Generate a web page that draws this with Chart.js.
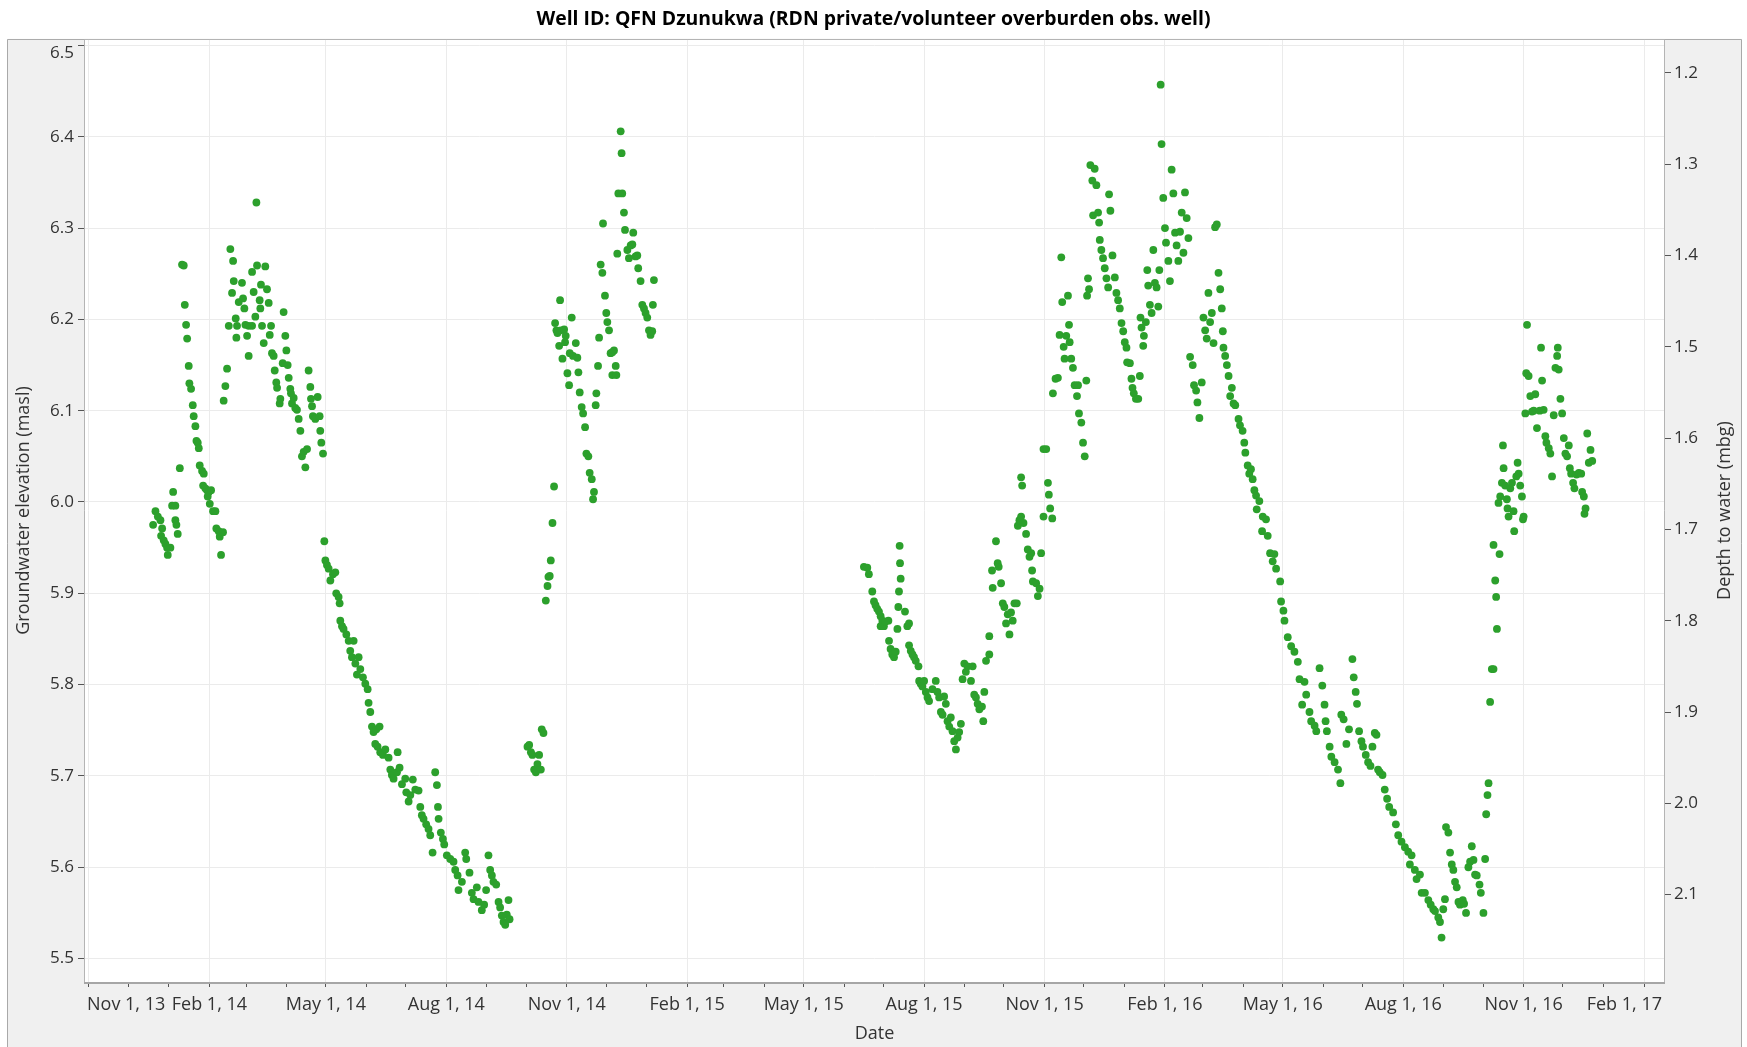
<!DOCTYPE html>
<html>
<head>
<meta charset="utf-8">
<title>Well ID: QFN Dzunukwa</title>
<script src="https://cdn.jsdelivr.net/npm/chart.js@4.4.1/dist/chart.umd.min.js"></script>
<style>
  html, body { margin: 0; padding: 0; background: #fff; }
</style>
</head>
<body>
<canvas id="well" width="1747" height="1047"></canvas>
<script>
// x values are days since Nov 1, 2013; y values are groundwater elevation (masl)
const startDate = '2013-11-01'
const groundSurface = 7.67   // depth to water = groundSurface - elevation

const winter2013 = [
  [49.0,5.975],[50.8,5.990],[52.6,5.984],[54.6,5.980],[55.1,5.963],[55.9,5.971],[57.1,5.958],
  [58.4,5.954],[59.7,5.950],[60.2,5.942],[62.2,5.950],[63.5,5.996],[64.3,6.011],[66.0,5.996],
  [66.0,5.980],[66.8,5.975],[67.8,5.965],[69.4,6.037]
]
const drop2014 = [
  [71.1,6.260],[72.4,6.259],[73.2,6.216],[74.2,6.194],[75.0,6.179],[76.2,6.149],[76.7,6.130],
  [78.0,6.124],[79.3,6.106],[80.0,6.094],[81.3,6.083],[82.1,6.067],[83.1,6.065],[83.9,6.059],
  [84.6,6.040],[86.4,6.034],[87.2,6.018],[87.7,6.031],[88.9,6.015],[90.2,6.013],[90.7,6.006],
  [91.5,6.011],[92.3,5.998],[93.3,6.013],[94.8,5.990],[96.6,5.990],[97.3,5.971],[99.1,5.968],
  [99.9,5.962],[100.9,5.942],[102.4,5.967]
]
const spring2014 = [
  [102.9,6.111],[104.2,6.127],[105.5,6.146],[106.8,6.193],[108.0,6.277],[109.3,6.229],[110.1,6.264],
  [110.6,6.242],[112.1,6.201],[112.6,6.180],[113.1,6.193],[114.4,6.219],[116.9,6.240],[117.7,6.223],
  [118.7,6.212],[119.5,6.194],[120.8,6.182],[122.0,6.193],[122.0,6.160],[124.6,6.193],[124.6,6.252],
  [125.8,6.230],[127.1,6.203],[127.9,6.328],[128.4,6.259],[130.4,6.221],[130.9,6.212],[131.4,6.238],
  [132.2,6.193],[133.5,6.174],[134.7,6.258],[136.0,6.233],[137.3,6.218],[138.1,6.183],[139.1,6.193],
  [139.8,6.163],[141.1,6.160],[141.9,6.144],[143.1,6.131],[143.7,6.125],[145.7,6.108],[146.2,6.113],
  [148.0,6.152],[148.7,6.208],[150.0,6.182],[150.8,6.166],[151.8,6.150],[152.6,6.136],[153.8,6.124],
  [154.3,6.119],[155.1,6.108],[156.4,6.114],[157.6,6.103],[158.9,6.101],[160.2,6.091],[161.5,6.078],
  [162.7,6.050],[164.0,6.055],[165.3,6.038],[166.6,6.058],[167.8,6.144],[169.1,6.126],[169.6,6.113],
  [170.4,6.105],[171.1,6.094],[172.9,6.091],[174.7,6.115],[176.2,6.094],[176.7,6.078],[177.5,6.065],
  [178.8,6.053]
]
const recession2014 = [
  [179.8,5.957],[180.6,5.936],[181.8,5.931],[183.1,5.927],[184.4,5.914],[186.4,5.921],[188.2,5.923],
  [188.9,5.900],[190.7,5.896],[191.5,5.889],[192.0,5.870],[193.3,5.864],[194.5,5.861],[196.6,5.855],
  [198.4,5.848],[199.6,5.837],[200.9,5.830],[202.2,5.848],[203.5,5.823],[204.7,5.811],[206.0,5.830],
  [207.3,5.817],[209.3,5.808],[211.1,5.801],[212.9,5.795],[213.6,5.780],[214.9,5.770],[216.2,5.754],
  [217.4,5.748],[218.7,5.735],[219.5,5.751],[220.5,5.732],[222.0,5.754],[222.5,5.726],[224.6,5.723],
  [226.4,5.729],[228.9,5.720],[230.2,5.707],[231.4,5.701],[232.7,5.697],[235.3,5.704],[235.8,5.726],
  [237.3,5.709],[239.1,5.691],[241.6,5.697],[242.4,5.682],[244.2,5.672],[245.5,5.679],[247.4,5.696],
  [249.3,5.685],[251.8,5.684],[253.1,5.666],[254.3,5.657],[255.6,5.653],[257.6,5.647],[259.4,5.642],
  [260.7,5.635],[262.5,5.616],[264.5,5.704],[265.8,5.690],[266.6,5.666],[267.1,5.653],[268.8,5.638],
  [270.4,5.631],[271.4,5.625],[273.4,5.613],[276.0,5.609],[278.5,5.606],[279.8,5.597],[281.6,5.591],
  [282.3,5.575],[284.9,5.584],[287.4,5.616],[288.2,5.609],[290.7,5.594],[292.5,5.572],[293.8,5.565],
  [296.3,5.578],[297.6,5.562],[300.1,5.553],[301.9,5.559],[303.4,5.575],[305.2,5.613],[306.5,5.597],
  [307.8,5.591],[309.0,5.584],[311.1,5.581],[312.9,5.562],[314.1,5.556],[315.4,5.547],[316.7,5.540],
  [318.0,5.537],[319.2,5.548],[320.5,5.564],[321.3,5.543]
]
const autumn2014 = [
  [335.0,5.732],[336.3,5.734],[337.6,5.726],[338.8,5.723],[340.1,5.707],[341.4,5.704],[342.6,5.713],
  [343.9,5.723],[345.2,5.707],[345.9,5.751],[347.2,5.747],
  [349.0,5.892],[350.3,5.908],[351.0,5.918],[352.0,5.919],[352.8,5.936],[354.1,5.977],[355.3,6.017]
]
const winter2015 = [
  [356.1,6.196],[357.1,6.188],[357.9,6.185],[359.2,6.171],[359.9,6.221],[360.4,6.188],[361.7,6.157],
  [363.0,6.189],[363.7,6.175],[364.2,6.182],[365.5,6.141],[366.8,6.128],[367.3,6.163],[368.8,6.202],
  [369.8,6.160],[371.9,6.174],[373.1,6.158],[373.9,6.142],[374.9,6.120],[376.4,6.104],[377.5,6.097],
  [379.0,6.082],[380.0,6.053],[381.5,6.050],[382.5,6.032],[384.1,6.025],[385.1,6.003],[385.8,6.011],
  [387.1,6.106],[387.6,6.119],[388.9,6.149],[389.7,6.180],[390.9,6.260],[392.2,6.251],[392.7,6.305],
  [394.2,6.226],[395.2,6.207],[396.0,6.197],[397.3,6.188],[398.5,6.163],[399.8,6.164],[399.8,6.139],
  [401.1,6.166],[402.4,6.149],[402.9,6.139],[403.6,6.272],[404.4,6.338],[406.2,6.406],[406.9,6.382],
  [407.4,6.338],[408.7,6.317],[409.5,6.298],[411.3,6.276],[412.5,6.267],[413.8,6.281],[415.1,6.282],
  [415.8,6.295],[417.6,6.269],[418.9,6.270],[419.6,6.256],[421.4,6.242],[422.7,6.216],[424.0,6.212],
  [425.2,6.207],[426.5,6.202],[427.8,6.188],[429.0,6.183],[430.3,6.187],[430.8,6.216],[431.6,6.243]
]
const summer2015 = [
  [592.0,5.929],[594.6,5.928],[595.8,5.921],[598.4,5.902],[599.7,5.891],[600.9,5.887],[602.2,5.883],
  [603.5,5.880],[604.8,5.875],[604.8,5.864],[606.1,5.870],[607.3,5.864],[608.6,5.869],[610.7,5.870],
  [611.2,5.848],[612.4,5.839],[613.7,5.833],[615.0,5.830],[616.3,5.836],[617.6,5.861],[618.3,5.885],
  [618.8,5.902],[619.3,5.952],[619.6,5.933],[620.1,5.916],[623.4,5.880],[625.2,5.864],[626.5,5.867],
  [626.5,5.843],[627.8,5.837],[629.1,5.833],[630.3,5.830],[631.6,5.826],[633.7,5.820],[634.2,5.804],
  [635.4,5.801],[636.7,5.798],[638.0,5.804],[639.3,5.792],[640.6,5.786],[641.8,5.782],[644.4,5.795],
  [646.9,5.804],[648.2,5.792],[649.5,5.786],[650.8,5.770],[652.1,5.767],[653.3,5.787],[654.6,5.779],
  [655.9,5.760],[657.2,5.754],[658.4,5.764],[659.7,5.749],[661.0,5.738],[662.3,5.729],[663.6,5.742],
  [664.8,5.748],[666.1,5.757],[667.4,5.806],[668.7,5.823],[669.9,5.814],[671.2,5.820],[673.8,5.804],
  [675.1,5.820],[676.3,5.789],[677.6,5.786],[678.9,5.779],[680.2,5.773],[682.2,5.776],[683.2,5.760],
  [684.0,5.792],[685.3,5.826],[687.8,5.833],[687.8,5.853],[689.9,5.925],[690.4,5.906],[692.9,5.957],
  [694.2,5.933],[695.0,5.929],[696.8,5.911],[698.1,5.889],[699.3,5.885],[700.6,5.867],[701.9,5.877],
  [703.2,5.855],[704.4,5.879],[705.7,5.870],[707.0,5.889],[708.8,5.889],[709.6,5.974],[710.8,5.980],
  [712.1,5.984],[712.1,6.027],[712.9,6.018],[713.9,5.977],[715.9,5.965],[717.2,5.948],[718.5,5.940],
  [719.8,5.944],[720.5,5.925],[721.1,5.913],[723.6,5.911],[724.9,5.897],[726.2,5.905],[727.4,5.944],
  [729.2,6.058],[729.2,5.984],[731.3,6.058],[732.6,6.021],[733.3,6.008],[734.3,5.993],[735.9,5.982]
]
const winter2016 = [
  [736.4,6.119],[738.4,6.135],[740.2,6.136],[741.5,6.183],[742.8,6.268],[743.5,6.219],[744.6,6.170],
  [745.3,6.157],[746.6,6.182],[747.9,6.226],[748.7,6.194],[749.2,6.175],[750.4,6.157],[751.7,6.147],
  [753.0,6.128],[754.8,6.116],[755.6,6.128],[756.3,6.097],[758.1,6.087],[759.4,6.065],[760.7,6.050],
  [761.9,6.133],[762.5,6.226],[763.2,6.245],[764.0,6.233],[765.0,6.369],[766.5,6.352],[767.1,6.314],
  [768.3,6.365],[769.6,6.347],[770.9,6.317],[771.7,6.306],[772.2,6.287],[773.4,6.276],[774.7,6.267],
  [776.0,6.256],[777.3,6.245],[778.6,6.235],[779.3,6.337],[780.3,6.319],[781.9,6.270],[783.7,6.246],
  [784.9,6.229],[786.2,6.221],[787.5,6.212],[788.8,6.196],[790.1,6.187],[791.3,6.175],[792.6,6.169],
  [793.1,6.153],[795.2,6.152],[796.4,6.135],[797.2,6.125],[798.2,6.119],[799.8,6.113],[801.6,6.113],
  [802.8,6.138],[803.3,6.202],[804.1,6.191],[805.4,6.171],[805.9,6.182],[807.4,6.197],[808.5,6.254],
  [809.2,6.237],[810.5,6.216],[811.8,6.207],[813.1,6.276],[814.3,6.240],[815.6,6.235],[816.9,6.214],
  [817.7,6.254],[818.7,6.457],[819.4,6.392],[820.7,6.333],[822.0,6.300],[822.8,6.284],[824.6,6.264],
  [825.8,6.242],[827.1,6.364],[828.4,6.338],[829.7,6.295],[830.9,6.281],[832.2,6.264],[833.5,6.296],
  [834.8,6.317],[836.1,6.273],[837.3,6.339],[838.6,6.311],[839.9,6.289],[841.2,6.159],[843.2,6.150],
  [844.2,6.128],[845.8,6.122],[846.8,6.109],[848.3,6.092],[850.1,6.131],[851.4,6.202],[852.7,6.188],
  [853.9,6.179],[855.2,6.229],[856.5,6.197],[857.8,6.207],[859.1,6.174],[860.3,6.301],[861.6,6.304],
  [862.9,6.251],[864.2,6.233],[865.4,6.212],[866.2,6.187],[866.7,6.169],[868.0,6.160],[869.3,6.150],
  [870.6,6.138],[871.8,6.116],[873.1,6.125],[874.4,6.108],[875.7,6.106],[878.2,6.091]
]
const recession2016 = [
  [879.3,6.084],[881.3,6.078],[882.6,6.065],[883.4,6.054],[885.2,6.040],[886.4,6.031],[887.7,6.036],
  [889.0,6.025],[890.3,6.013],[891.6,6.007],[892.1,5.992],[894.1,6.001],[896.2,5.968],[896.7,5.984],
  [899.2,5.981],[900.5,5.963],[902.3,5.944],[904.3,5.935],[905.6,5.943],[906.9,5.927],[910.0,5.913],
  [910.7,5.891],[912.5,5.881],[913.3,5.870],[915.8,5.852],[918.4,5.842],[920.9,5.836],[923.5,5.825],
  [924.8,5.806],[926.8,5.778],[928.6,5.803],[929.9,5.789],[932.4,5.770],[933.7,5.760],[936.3,5.755],
  [937.6,5.749],[940.1,5.818],[942.2,5.799],[943.9,5.778],[944.7,5.760],[945.7,5.749],[947.8,5.732],
  [949.1,5.721],[951.6,5.715],[954.2,5.707],[956.0,5.692],[956.7,5.767],[958.5,5.762],[960.6,5.735],
  [962.6,5.751],[965.2,5.828],[966.2,5.808],[967.7,5.792],[968.7,5.779],[970.3,5.749],[972.1,5.738],
  [973.3,5.732],[975.4,5.723],[977.2,5.715],[979.0,5.711],[980.5,5.732],[982.3,5.747],[983.6,5.745],
  [984.8,5.707],[986.1,5.704],[988.2,5.701],[989.9,5.685],[991.7,5.675],[993.3,5.666],[996.3,5.660],
  [998.4,5.647],[1000.2,5.635],[1002.7,5.628],[1005.3,5.622],[1007.8,5.617],[1009.1,5.603],[1010.4,5.613],
  [1012.9,5.597],[1014.2,5.587],[1016.8,5.592],[1018.1,5.572],[1020.6,5.572],[1023.2,5.564],[1025.0,5.559],
  [1027.0,5.554],[1028.3,5.552],[1030.8,5.545],[1032.1,5.540],[1033.3,5.523],[1034.6,5.554],[1035.9,5.565],
  [1036.7,5.644],[1038.5,5.638],[1039.8,5.616],[1041.1,5.603],[1042.3,5.597],[1043.6,5.584],[1044.9,5.578],
  [1046.2,5.562],[1047.4,5.559],[1049.5,5.564],[1050.5,5.560],[1052.0,5.550],[1053.8,5.600],[1055.1,5.606],
  [1056.4,5.623],[1057.7,5.608],[1058.9,5.592],[1060.2,5.591],[1062.3,5.581],[1063.3,5.572],[1065.3,5.550],
  [1066.6,5.609],[1067.4,5.658],[1068.4,5.679],[1069.2,5.692],[1070.4,5.781],[1071.7,5.817],[1073.0,5.817],
  [1073.0,5.953],[1074.3,5.914],[1075.0,5.896],[1075.6,5.861],[1076.8,5.999],[1077.6,5.943],[1078.1,6.006]
]
const autumn2016 = [
  [1079.4,6.021],[1080.2,6.062],[1080.7,6.037],[1081.9,6.018],[1083.2,6.003],[1083.7,5.993],[1084.5,5.984],
  [1085.8,6.015],[1087.1,6.021],[1088.3,5.990],[1088.8,5.968],[1090.4,6.028],[1091.4,6.043],[1092.2,6.031],
  [1093.4,6.018],[1094.7,6.006],[1095.5,5.981],[1096.0,5.984],[1097.3,6.097],[1098.0,6.141],[1098.6,6.194],
  [1099.8,6.138],[1101.1,6.116],[1102.4,6.099],[1103.7,6.100],[1104.9,6.118],[1106.2,6.081],[1108.3,6.100],
  [1109.3,6.169],[1110.1,6.133],[1111.3,6.101],[1112.6,6.072],[1113.4,6.065],[1115.2,6.059],[1116.4,6.053],
  [1117.7,6.028],[1119.0,6.095],[1120.3,6.147],[1121.6,6.160],[1122.1,6.169],[1122.8,6.145],[1124.1,6.113],
  [1125.4,6.097],[1126.7,6.070],[1127.9,6.053],[1129.2,6.050],[1130.5,6.062],[1131.3,6.037],[1132.3,6.031],
  [1133.8,6.021],[1134.8,6.015],[1136.4,6.030],[1138.2,6.032],[1140.0,6.031],[1140.7,6.011],[1142.0,6.006],
  [1142.5,5.987],[1143.3,5.993],[1144.6,6.075],[1145.8,6.043],[1147.1,6.057],[1148.4,6.045]
]

const elevTicks = [5.5, 5.6, 5.7, 5.8, 5.9, 6.0, 6.1, 6.2, 6.3, 6.4, 6.5]
const depthTicks = [1.2, 1.3, 1.4, 1.5, 1.6, 1.7, 1.8, 1.9, 2.0, 2.1]
const xTickDates = ['2013-11-01','2014-02-01','2014-05-01','2014-08-01','2014-11-01','2015-02-01','2015-05-01',
                    '2015-08-01','2015-11-01','2016-02-01','2016-05-01','2016-08-01','2016-11-01','2017-02-01']
const xTickLabels = ['Nov 1, 13','Feb 1, 14','May 1, 14','Aug 1, 14','Nov 1, 14','Feb 1, 15','May 1, 15',
                     'Aug 1, 15','Nov 1, 15','Feb 1, 16','May 1, 16','Aug 1, 16','Nov 1, 16','Feb 1, 17']

const dayOf = d => (Date.parse(d) - Date.parse(startDate)) / 86400000
const majorDays = xTickDates.map(dayOf)

// first of every month between the labelled dates (minor ticks)
const monthDays = []
for (let y = 2013, m = 10; ; m++) {
  if (m > 11) { m = 0; y++ }
  monthDays.push((Date.UTC(y, m, 1) - Date.parse(startDate)) / 86400000)
  if (y === 2017 && m === 1) break
}

const points = [].concat(winter2013, drop2014, spring2014, recession2014, autumn2014, winter2015,
  summer2015, winter2016, recession2016, autumn2016).map(p => ({x: p[0], y: p[1]}))

const elevMin = 5.4743, elevMax = 6.5071
const fontFamily = '"Open Sans", "Noto Sans", sans-serif'
const textColor = '#333'

const framePlugin = {
  id: 'frame',
  beforeDraw(chart) {
    const {ctx, chartArea: a, width, height} = chart
    ctx.save()
    ctx.fillStyle = '#fff'
    ctx.fillRect(0, 0, width, height)
    ctx.fillStyle = '#f0f0f0'
    ctx.fillRect(7.5, a.top, 1734, height - a.top)
    ctx.fillStyle = '#fff'
    ctx.fillRect(a.left, a.top, a.right - a.left, a.bottom - a.top)
    ctx.strokeStyle = '#a9a9a9'
    ctx.lineWidth = 1
    ctx.beginPath()
    ctx.moveTo(7.5, height)
    ctx.lineTo(7.5, a.top + 0.5)
    ctx.lineTo(1741.5, a.top + 0.5)
    ctx.lineTo(1741.5, height)
    ctx.stroke()
    ctx.restore()
  },
  afterDraw(chart) {
    const {ctx, chartArea: a} = chart
    const xs = chart.scales.x, ys = chart.scales.elev
    ctx.save()
    ctx.strokeStyle = '#b4b4b4'
    ctx.lineWidth = 1
    ctx.beginPath()
    ctx.moveTo(a.left + 0.5, a.bottom)
    ctx.lineTo(a.left + 0.5, a.top + 0.5)
    ctx.lineTo(a.right - 0.5, a.top + 0.5)
    ctx.lineTo(a.right - 0.5, a.bottom)
    ctx.stroke()
    ctx.strokeStyle = '#a6a6a6'
    ctx.lineWidth = 2
    ctx.beginPath()
    ctx.moveTo(a.left, a.bottom + 1)
    ctx.lineTo(a.right, a.bottom + 1)
    ctx.stroke()

    ctx.fillStyle = textColor
    ctx.textBaseline = 'middle'
    // date labels, kept inside the plot width at both ends
    ctx.font = '18px ' + fontFamily
    ctx.textAlign = 'left'
    majorDays.forEach((d, i) => {
      const w = ctx.measureText(xTickLabels[i]).width
      const px = xs.getPixelForValue(d)
      const left = Math.min(Math.max(px - w / 2, a.left + 3), a.right - 3 - w)
      ctx.fillText(xTickLabels[i], left, a.bottom + 23)
    })
    // elevation labels, kept inside the plot height
    ctx.font = '17px ' + fontFamily
    ctx.textAlign = 'right'
    elevTicks.forEach(v => {
      const py = Math.min(Math.max(ys.getPixelForValue(v), a.top + 14), a.bottom - 12)
      ctx.fillText(v.toFixed(1), a.left - 10, py)
    })
    // right axis title reads bottom-to-top like the left one
    ctx.translate(chart.scales.depth.right - 22, (a.top + a.bottom) / 2)
    ctx.rotate(-Math.PI / 2)
    ctx.font = '18px ' + fontFamily
    ctx.textAlign = 'center'
    ctx.fillText('Depth to water (mbg)', 0, 0)
    ctx.restore()
  }
}

new Chart(document.getElementById('well'), {
  type: 'scatter',
  data: {
    datasets: [{
      label: 'Groundwater elevation',
      data: points,
      yAxisID: 'elev',
      backgroundColor: '#2ca02c',
      borderWidth: 0,
      pointRadius: 3.9,
      pointHoverRadius: 3.9
    }]
  },
  options: {
    responsive: false,
    animation: false,
    devicePixelRatio: 1,
    layout: { padding: 0 },
    plugins: {
      legend: { display: false },
      tooltip: { enabled: false },
      title: {
        display: true,
        text: 'Well ID: QFN Dzunukwa (RDN private/volunteer overburden obs. well)',
        color: '#000',
        font: { family: fontFamily, size: 19.4, weight: 'bold', lineHeight: 1.2 },
        padding: { top: 8, bottom: 7.7 }
      }
    },
    scales: {
      x: {
        type: 'linear',
        position: 'bottom',
        min: -3.8,
        max: 1204,
        afterBuildTicks: s => { s.ticks = monthDays.map(v => ({value: v})) },
        afterFit: s => { s.height = 65 },
        ticks: {
          autoSkip: false,
          maxRotation: 0,
          color: 'rgba(0,0,0,0)',
          font: { family: fontFamily, size: 18 },
          callback: () => ''
        },
        grid: {
          color: c => (c.tick && majorDays.includes(c.tick.value)) ? '#ebebeb' : 'rgba(0,0,0,0)',
          tickColor: '#555',
          tickLength: 5
        },
        border: { display: false },
        title: {
          display: true,
          text: 'Date',
          color: textColor,
          font: { family: fontFamily, size: 18, lineHeight: 1.2 },
          padding: { top: 0, bottom: 2 }
        }
      },
      elev: {
        type: 'linear',
        position: 'left',
        min: elevMin,
        max: elevMax,
        afterBuildTicks: s => { s.ticks = elevTicks.map(v => ({value: v})) },
        afterFit: s => { s.width = 84 },
        ticks: {
          color: 'rgba(0,0,0,0)',
          padding: 3,
          font: { family: fontFamily, size: 17 },
          callback: v => v.toFixed(1)
        },
        grid: { color: '#ebebeb', tickColor: '#555', tickLength: 6 },
        border: { display: false },
        title: {
          display: true,
          text: 'Groundwater elevation (masl)',
          color: textColor,
          font: { family: fontFamily, size: 18, lineHeight: 1.2 },
          padding: { top: 13, bottom: 0 }
        }
      },
      depth: {
        type: 'linear',
        position: 'right',
        reverse: true,
        min: groundSurface - elevMax,
        max: groundSurface - elevMin,
        afterBuildTicks: s => { s.ticks = depthTicks.map(v => ({value: v})) },
        afterFit: s => { s.width = 82 },
        ticks: {
          color: textColor,
          padding: 3,
          font: { family: fontFamily, size: 17 },
          callback: v => v.toFixed(1)
        },
        grid: { drawOnChartArea: false, tickColor: '#555', tickLength: 6 },
        border: { display: false }
      }
    }
  },
  plugins: [framePlugin]
})
</script>
</body>
</html>
